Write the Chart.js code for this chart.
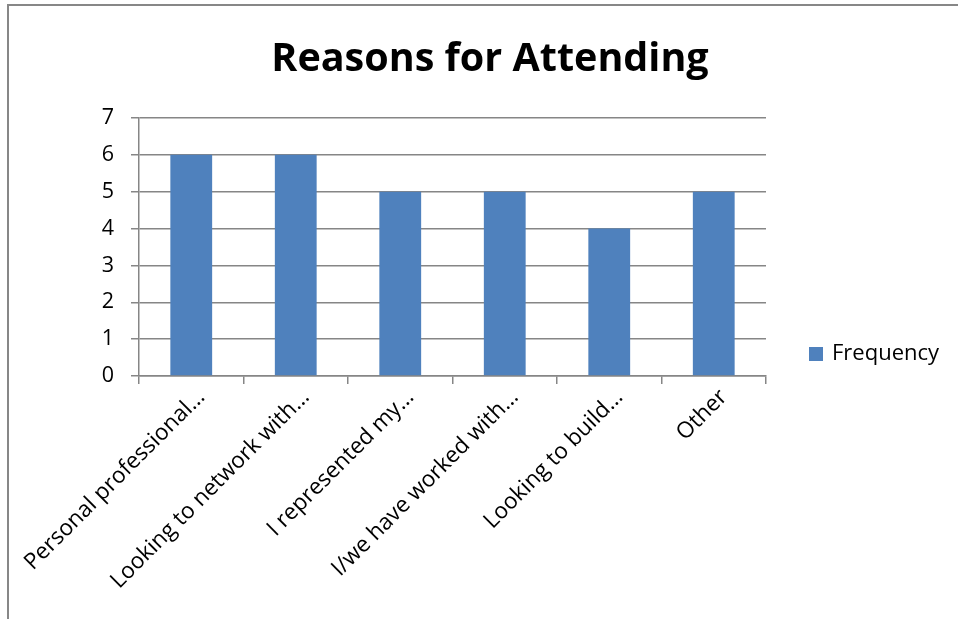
<!DOCTYPE html>
<html>
<head>
<meta charset="utf-8">
<script src="https://cdn.jsdelivr.net/npm/chart.js@4.4.1/dist/chart.umd.min.js"></script>
<style>
  html, body { margin: 0; padding: 0; background: #fff; overflow: hidden; }
  #frame {
    position: absolute; left: 7px; top: 4px; width: 2000px; height: 2000px;
    border-left: 2px solid #878787; border-top: 2px solid #878787;
  }
  #wrap { position: absolute; left: 0; top: 0; width: 958px; height: 619px; }
</style>
</head>
<body>
<div id="frame"></div>
<div id="wrap"><canvas id="chart" width="958" height="619"></canvas></div>
<script>
// Survey responses: why people attended
const chartTitle = 'Reasons for Attending';
const categories = [
  'Personal professional…',
  'Looking to network with…',
  'I represented my…',
  'I/we have worked with…',
  'Looking to build…',
  'Other'
];
const seriesName = 'Frequency';
const frequency = [6, 6, 5, 5, 4, 5];
const yTicks = [0, 1, 2, 3, 4, 5, 6, 7];

const FONT = '"Open Sans", Lato, sans-serif';
const BAR = '#4F81BD';
const AXIS = '#868686';

// Title and legend drawn on the canvas in office-chart style
const decorations = {
  id: 'decorations',
  afterDraw(chart) {
    const ctx = chart.ctx;
    ctx.save();
    ctx.fillStyle = '#000';
    ctx.font = 'bold 39.5px ' + FONT;
    ctx.textAlign = 'center';
    ctx.textBaseline = 'alphabetic';
    ctx.fillText(chartTitle, 490, 71);

    const ds = chart.data.datasets[0];
    ctx.fillStyle = ds.backgroundColor;
    ctx.fillRect(809, 347, 14, 14);
    ctx.fillStyle = '#000';
    ctx.font = '22px ' + FONT;
    ctx.textAlign = 'left';
    ctx.textBaseline = 'middle';
    ctx.fillText(ds.label, 832, 354);
    ctx.restore();
  }
};

new Chart(document.getElementById('chart'), {
  type: 'bar',
  data: {
    labels: categories,
    datasets: [{
      label: seriesName,
      data: frequency,
      backgroundColor: BAR,
      borderWidth: 0,
      barPercentage: 0.4,
      categoryPercentage: 1.0
    }]
  },
  options: {
    responsive: false,
    animation: false,
    events: [],
    layout: { padding: { left: 79, right: 192, top: 118, bottom: 0 } },
    plugins: {
      legend: { display: false },
      title: { display: false },
      tooltip: { enabled: false }
    },
    scales: {
      x: {
        afterFit(scale) { scale.height = 243; },
        grid: {
          display: true,
          offset: true,
          drawOnChartArea: false,
          drawTicks: true,
          tickLength: 8,
          color: AXIS,
          lineWidth: 1.5
        },
        border: { display: true, color: AXIS, width: 1.5 },
        ticks: {
          autoSkip: false,
          maxRotation: 45,
          minRotation: 45,
          padding: 0,
          labelOffset: 10,
          color: '#000',
          font: { family: FONT, size: 22.5 }
        }
      },
      y: {
        min: 0,
        max: 7,
        afterFit(scale) { scale.width = 60; },
        afterBuildTicks(scale) { scale.ticks = yTicks.map(v => ({ value: v })); },
        grid: {
          color: AXIS,
          lineWidth: 1.5,
          drawTicks: true,
          tickLength: 8
        },
        border: { display: true, color: AXIS, width: 1.5 },
        ticks: {
          padding: 17,
          color: '#000',
          font: { family: FONT, size: 21.5 }
        }
      }
    }
  },
  plugins: [decorations]
});
</script>
</body>
</html>
